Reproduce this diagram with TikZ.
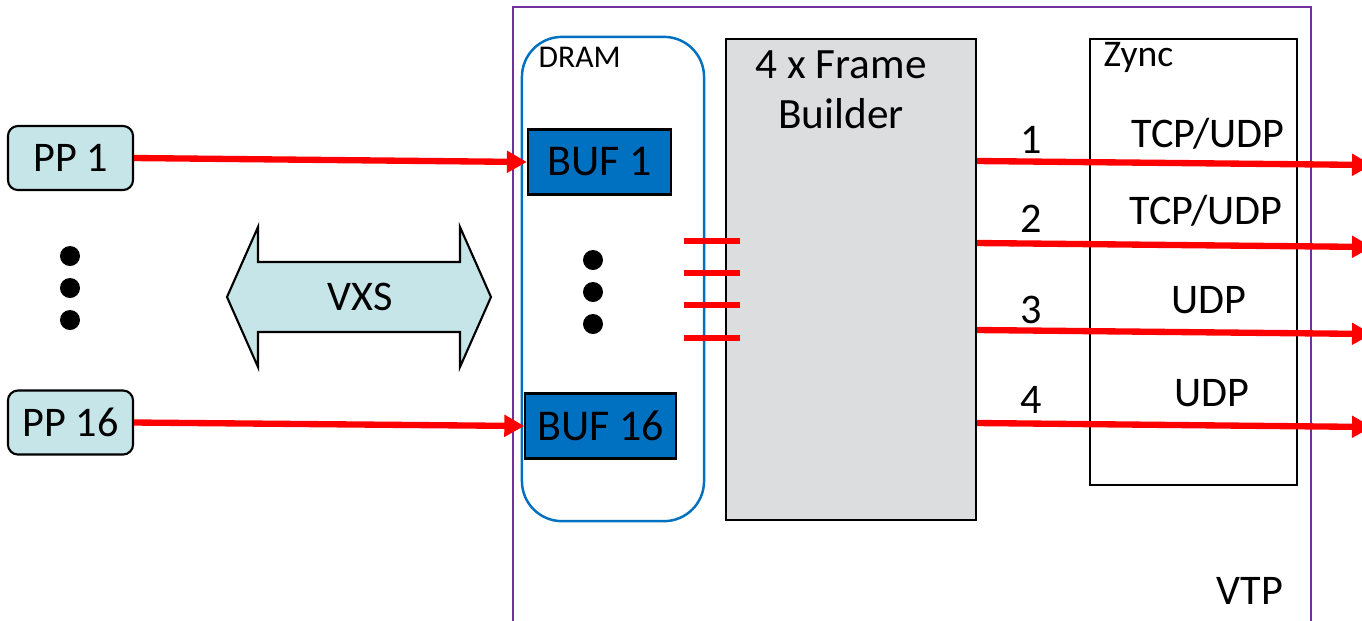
\documentclass[tikz,border=0pt]{standalone}
\usepackage{fontspec}
\setmainfont{Carlito}
\usetikzlibrary{arrows.meta}
\definecolor{ppfill}{RGB}{198,229,233}
\definecolor{bufblue}{RGB}{0,112,192}
\definecolor{fbgray}{RGB}{220,221,223}
\definecolor{vtppurple}{RGB}{112,48,160}
\begin{document}
\begin{tikzpicture}[x=0.01cm,y=-0.01cm,
  ppbox/.style={draw,line width=0.6pt,fill=ppfill,rounded corners=0.1cm,minimum width=1.25cm,minimum height=0.64cm,font=\fontsize{12}{14}\selectfont},
  bufbox/.style={draw,line width=0.6pt,fill=bufblue,minimum width=1.43cm,minimum height=0.65cm,font=\fontsize{12.5}{14}\selectfont},
  redarrow/.style={red,line width=1.8pt,-{Triangle[length=0.2cm,width=0.21cm]}},
  txt/.style={font=\fontsize{12}{14.2}\selectfont}]
\useasboundingbox (0,0) rectangle (1362,620);
% VTP board
\draw[vtppurple,line width=0.6pt] (513,640)--(513,7)--(1311,7)--(1311,640);
\node[txt] (vtp) at (1250,591) {VTP};
% DRAM and buffers
\node[draw=bufblue,line width=0.7pt,rounded corners=0.4cm,minimum width=1.82cm,minimum height=4.84cm] (dram) at (613,279) {};
\node[anchor=north west,font=\fontsize{9}{10}\selectfont,inner sep=0pt] (dramlbl) at (538,46) {DRAM};
\node[bufbox] (buf1) at (599.5,162) {BUF 1};
\node[bufbox] (buf16) at (600.5,426) {BUF 16};
\fill (593,260) circle (10);\fill (593,292) circle (10);\fill (593,324) circle (10);
% frame builder
\node[draw,line width=0.6pt,fill=fbgray,minimum width=2.5cm,minimum height=4.81cm] (fb) at (851,279.5) {};
\node[txt,align=center,font=\fontsize{12.3}{14.2}\selectfont] (fbtxt) at (841,90) {4 x Frame\\Builder};
\foreach \y in {241,273,305,338} \draw[red,line width=1.7pt] (684,\y)--(740,\y);
% Zync
\node[draw,line width=0.6pt,minimum width=2.07cm,minimum height=4.45cm] (zync) at (1193.5,262) {};
\node[anchor=west,font=\fontsize{10.7}{12}\selectfont,inner sep=0pt] (zynclbl) at (1103,57) {Zync};
\node[txt] (p1) at (1208,134) {TCP/UDP};
\node[txt] (p2) at (1206,211) {TCP/UDP};
\node[txt] (p3) at (1209,300) {UDP};
\node[txt] (p4) at (1212,393) {UDP};
\foreach \i/\y/\l in {1/161/140,2/243/219,3/330/310,4/423/400}{
  \coordinate (out\i) at (1372,\y+4);
  \draw[redarrow] (fb.east |- 0,\y)--(out\i);
  \node[txt] (n\i) at (1031,\l) {\i};
}
% pixel processors
\node[ppbox] (pp1) at (70.5,158) {PP 1};
\node[ppbox] (pp16) at (70.5,422.5) {PP 16};
\fill (70,256) circle (10);\fill (70,288) circle (10);\fill (70,320) circle (10);
\draw[redarrow] (pp1.east)--(buf1.west);
\draw[redarrow] (pp16.east)--(buf16.west);
% VXS
\draw[line width=0.6pt,fill=ppfill] (227,297)--(258,227)--(258,262)--(460,262)--(460,227)--(491,297)--(460,367)--(460,332)--(258,332)--(258,367)--cycle;
\node[font=\fontsize{12}{14}\selectfont] (vxs) at (360,297) {VXS};
\end{tikzpicture}
\end{document}
